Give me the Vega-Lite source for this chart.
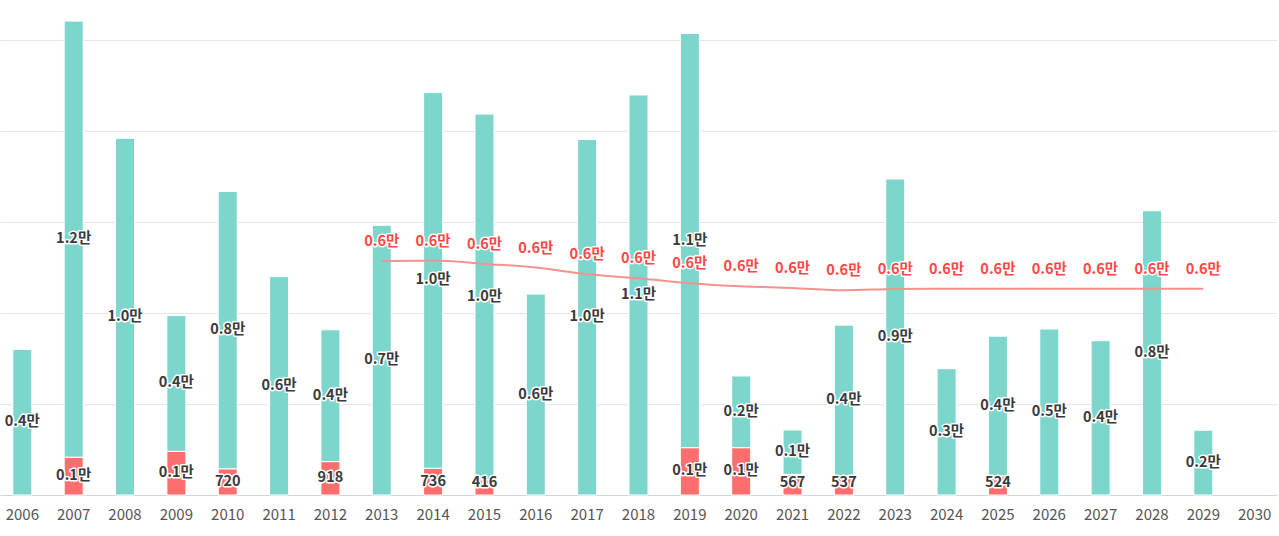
{
  "$schema": "https://vega.github.io/schema/vega-lite/v6.json",
  "description": "연도별 입주물량 (아파트 / 주상복합) 과 수요량",
  "autosize": {"type": "none"},
  "width": 1277,
  "height": 495,
  "padding": {"left": 0, "top": 0, "right": 2, "bottom": 41},
  "background": "#ffffff",
  "config": {
    "view": {"stroke": null},
    "font": "Noto Sans CJK KR"
  },
  "datasets": {
    "bars": [
      {"year": "2006", "series": "아파트", "order": 2, "value": 4000, "label": "0.4만"},
      {"year": "2007", "series": "주상복합", "order": 1, "value": 1040, "label": "0.1만"},
      {"year": "2007", "series": "아파트", "order": 2, "value": 11980, "label": "1.2만"},
      {"year": "2008", "series": "아파트", "order": 2, "value": 9800, "label": "1.0만"},
      {"year": "2009", "series": "주상복합", "order": 1, "value": 1200, "label": "0.1만"},
      {"year": "2009", "series": "아파트", "order": 2, "value": 3730, "label": "0.4만"},
      {"year": "2010", "series": "주상복합", "order": 1, "value": 720, "label": "720"},
      {"year": "2010", "series": "아파트", "order": 2, "value": 7620, "label": "0.8만"},
      {"year": "2011", "series": "아파트", "order": 2, "value": 6000, "label": "0.6만"},
      {"year": "2012", "series": "주상복합", "order": 1, "value": 918, "label": "918"},
      {"year": "2012", "series": "아파트", "order": 2, "value": 3620, "label": "0.4만"},
      {"year": "2013", "series": "아파트", "order": 2, "value": 7410, "label": "0.7만"},
      {"year": "2014", "series": "주상복합", "order": 1, "value": 736, "label": "736"},
      {"year": "2014", "series": "아파트", "order": 2, "value": 10320, "label": "1.0만"},
      {"year": "2015", "series": "주상복합", "order": 1, "value": 416, "label": "416"},
      {"year": "2015", "series": "아파트", "order": 2, "value": 10050, "label": "1.0만"},
      {"year": "2016", "series": "아파트", "order": 2, "value": 5520, "label": "0.6만"},
      {"year": "2017", "series": "아파트", "order": 2, "value": 9770, "label": "1.0만"},
      {"year": "2018", "series": "아파트", "order": 2, "value": 10990, "label": "1.1만"},
      {"year": "2019", "series": "주상복합", "order": 1, "value": 1300, "label": "0.1만"},
      {"year": "2019", "series": "아파트", "order": 2, "value": 11380, "label": "1.1만"},
      {"year": "2020", "series": "주상복합", "order": 1, "value": 1300, "label": "0.1만"},
      {"year": "2020", "series": "아파트", "order": 2, "value": 1970, "label": "0.2만"},
      {"year": "2021", "series": "주상복합", "order": 1, "value": 567, "label": "567"},
      {"year": "2021", "series": "아파트", "order": 2, "value": 1220, "label": "0.1만"},
      {"year": "2022", "series": "주상복합", "order": 1, "value": 537, "label": "537"},
      {"year": "2022", "series": "아파트", "order": 2, "value": 4130, "label": "0.4만"},
      {"year": "2023", "series": "아파트", "order": 2, "value": 8680, "label": "0.9만"},
      {"year": "2024", "series": "아파트", "order": 2, "value": 3470, "label": "0.3만"},
      {"year": "2025", "series": "주상복합", "order": 1, "value": 524, "label": "524"},
      {"year": "2025", "series": "아파트", "order": 2, "value": 3840, "label": "0.4만"},
      {"year": "2026", "series": "아파트", "order": 2, "value": 4560, "label": "0.5만"},
      {"year": "2027", "series": "아파트", "order": 2, "value": 4240, "label": "0.4만"},
      {"year": "2028", "series": "아파트", "order": 2, "value": 7810, "label": "0.8만"},
      {"year": "2029", "series": "아파트", "order": 2, "value": 1780, "label": "0.2만"}
    ],
    "demand": [
      {"year": "2013", "demand": 6430, "label": "0.6만"},
      {"year": "2014", "demand": 6440, "label": "0.6만"},
      {"year": "2015", "demand": 6350, "label": "0.6만"},
      {"year": "2016", "demand": 6250, "label": "0.6만"},
      {"year": "2017", "demand": 6065, "label": "0.6만"},
      {"year": "2018", "demand": 5955, "label": "0.6만"},
      {"year": "2019", "demand": 5820, "label": "0.6만"},
      {"year": "2020", "demand": 5735, "label": "0.6만"},
      {"year": "2021", "demand": 5690, "label": "0.6만"},
      {"year": "2022", "demand": 5625, "label": "0.6만"},
      {"year": "2023", "demand": 5660, "label": "0.6만"},
      {"year": "2024", "demand": 5668, "label": "0.6만"},
      {"year": "2025", "demand": 5668, "label": "0.6만"},
      {"year": "2026", "demand": 5668, "label": "0.6만"},
      {"year": "2027", "demand": 5668, "label": "0.6만"},
      {"year": "2028", "demand": 5668, "label": "0.6만"},
      {"year": "2029", "demand": 5668, "label": "0.6만"}
    ]
  },
  "encoding": {
    "x": {
      "field": "year",
      "type": "nominal",
      "title": null,
      "scale": {
        "domain": ["2006", "2007", "2008", "2009", "2010", "2011", "2012", "2013", "2014", "2015", "2016", "2017", "2018", "2019", "2020", "2021", "2022", "2023", "2024", "2025", "2026", "2027", "2028", "2029", "2030"],
        "paddingInner": 0.63,
        "paddingOuter": 0.25
      },
      "axis": {
        "labelAngle": 0,
        "labelFontSize": 15,
        "labelColor": "#555555",
        "labelPadding": 12,
        "ticks": false,
        "domainColor": "#ccd6eb",
        "domainWidth": 1,
        "grid": false
      }
    }
  },
  "resolve": {"scale": {"y": "independent"}},
  "layer": [
    {
      "layer": [
        {
          "data": {"name": "bars"},
          "mark": {"type": "bar", "stroke": "#ffffff", "strokeWidth": 1},
          "encoding": {
            "y": {
              "field": "value",
              "type": "quantitative",
              "stack": "zero",
              "title": null,
              "scale": {"domain": [0, 13600], "nice": false},
              "axis": {
                "values": [2500, 5000, 7500, 10000, 12500],
                "labels": false,
                "ticks": false,
                "domain": false,
                "gridColor": "#e6e6e6",
                "gridWidth": 1
              }
            },
            "color": {
              "field": "series",
              "type": "nominal",
              "scale": {"domain": ["주상복합", "아파트"], "range": ["#ff6e6e", "#7dd6cc"]},
              "legend": null
            },
            "order": {"field": "order", "type": "quantitative"}
          }
        },
        {
          "data": {"name": "demand"},
          "mark": {"type": "line", "color": "#f4928d", "strokeWidth": 2, "interpolate": "monotone"},
          "encoding": {
            "y": {"field": "demand", "type": "quantitative"}
          }
        },
        {
          "data": {"name": "demand"},
          "mark": {"type": "text", "fontSize": 14.5, "fontWeight": "bold", "dy": -19, "stroke": "#ffffff", "strokeWidth": 3, "strokeJoin": "round", "fill": "#ffffff"},
          "encoding": {
            "y": {"field": "demand", "type": "quantitative"},
            "text": {"field": "label"}
          }
        },
        {
          "data": {"name": "demand"},
          "mark": {"type": "text", "fontSize": 14.5, "fontWeight": "bold", "dy": -19, "fill": "#ff4747"},
          "encoding": {
            "y": {"field": "demand", "type": "quantitative"},
            "text": {"field": "label"}
          }
        }
      ]
    },
    {
      "data": {"name": "bars"},
      "transform": [
        {"stack": "value", "groupby": ["year"], "sort": [{"field": "order"}], "as": ["v0", "v1"]},
        {"fold": ["v0", "v1"], "as": ["edge", "pos"]},
        {"aggregate": [{"op": "mean", "field": "pos", "as": "mid"}], "groupby": ["year", "series", "label"]}
      ],
      "encoding": {
        "y": {
          "field": "mid",
          "type": "quantitative",
          "scale": {"domain": [330, 13600], "range": [483, 0], "nice": false, "zero": false, "clamp": true},
          "axis": null
        },
        "text": {"field": "label"}
      },
      "layer": [
        {
          "mark": {"type": "text", "fontSize": 14.5, "fontWeight": "bold", "stroke": "#ffffff", "strokeWidth": 3, "strokeJoin": "round", "fill": "#ffffff"}
        },
        {
          "mark": {"type": "text", "fontSize": 14.5, "fontWeight": "bold", "fill": "#3a3a3a"}
        }
      ]
    }
  ]
}
